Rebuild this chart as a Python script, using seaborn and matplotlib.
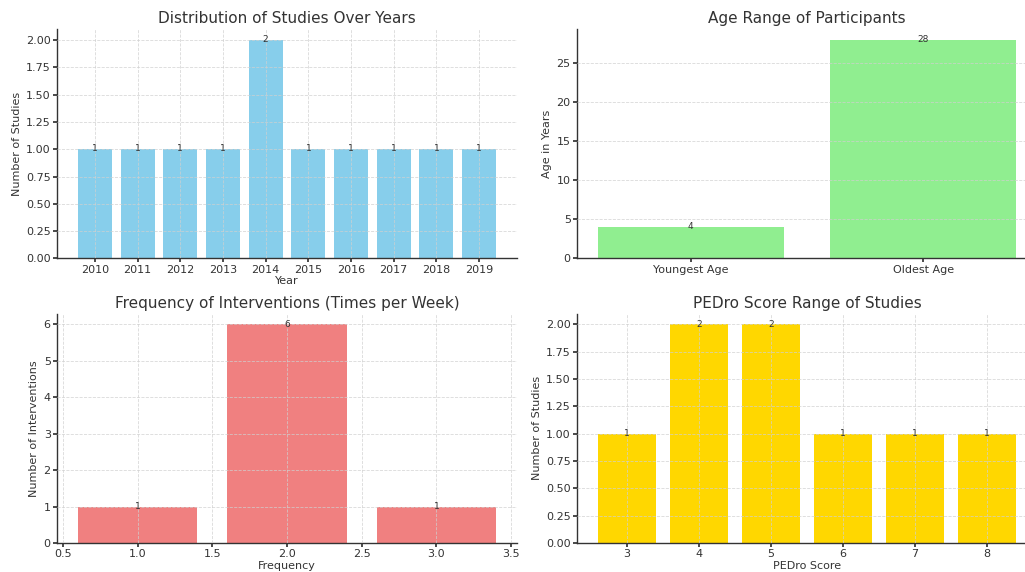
import matplotlib
matplotlib.use("Agg")
import matplotlib.pyplot as plt
import seaborn as sns
import pandas as pd

# data
years = [2010, 2011, 2012, 2013, 2014, 2015, 2016, 2017, 2018, 2019]
studies_per_year = [1, 1, 1, 1, 2, 1, 1, 1, 1, 1]

age_labels = ["Youngest Age", "Oldest Age"]
age_values = [4, 28]

freq_values = [1.0, 2.0, 3.0]
freq_counts = [1, 6, 1]

pedro_scores = [3, 4, 5, 6, 7, 8]
pedro_counts = [1, 2, 2, 1, 1, 1]

sns.set_theme(style="whitegrid", rc={
    "grid.linestyle": "--",
    "grid.color": "#d0d0d0",
    "grid.linewidth": 0.6,
    "axes.edgecolor": "#333333",
    "axes.linewidth": 1.0,
    "axes.axisbelow": False,
    "text.color": "#333333",
    "axes.labelcolor": "#333333",
    "xtick.color": "#333333",
    "ytick.color": "#333333",
    "xtick.bottom": True,
    "ytick.left": True,
    "xtick.major.size": 3,
    "ytick.major.size": 3,
})
plt.rcParams["font.family"] = ["DejaVu Sans"]

TITLE = 11
LABEL = 8
TICK = 8
ANNOT = 6.5


def finish(ax, title, xlabel, ylabel):
    ax.set_title(title, fontsize=TITLE, pad=4)
    ax.set_xlabel(xlabel, fontsize=LABEL, labelpad=1)
    ax.set_ylabel(ylabel, fontsize=LABEL, labelpad=3)
    ax.tick_params(labelsize=TICK, pad=1.5)
    for c in ax.containers:
        ax.bar_label(c, fontsize=ANNOT, color="#333333", padding=-3)
    sns.despine(ax=ax)
    for g in ax.get_xgridlines() + ax.get_ygridlines():
        g.set_alpha(0.8)


fig, axes = plt.subplots(2, 2, figsize=(10.25, 5.72), dpi=100)
fig.subplots_adjust(left=0.0556, right=1.0117, top=0.9493, bottom=0.0507,
                    wspace=0.1304, hspace=0.2397)

# years
ax = axes[0, 0]
df_years = pd.DataFrame({"Year": years, "Studies": studies_per_year})
sns.barplot(data=df_years, x="Year", y="Studies", color="skyblue",
            saturation=1, native_scale=True, linewidth=0, ax=ax)
ax.margins(x=0.05)
ax.set_xticks(years, labels=[str(y) for y in years])
finish(ax, "Distribution of Studies Over Years", "Year", "Number of Studies")

# age range
ax = axes[0, 1]
df_age = pd.DataFrame({"Group": age_labels, "Age": age_values})
sns.barplot(data=df_age, x="Group", y="Age", color="lightgreen",
            saturation=1, linewidth=0, ax=ax)
ax.set_xlim(-0.49, 1.49)
ax.set_ylim(0, 29.4)
finish(ax, "Age Range of Participants", "", "Age in Years")

# frequency
ax = axes[1, 0]
df_freq = pd.DataFrame({"Frequency": freq_values, "Count": freq_counts})
sns.barplot(data=df_freq, x="Frequency", y="Count", color="lightcoral",
            saturation=1, native_scale=True, linewidth=0, ax=ax)
ax.margins(x=0.05)
ax.set_xticks([0.5, 1.0, 1.5, 2.0, 2.5, 3.0, 3.5])
finish(ax, "Frequency of Interventions (Times per Week)", "Frequency",
       "Number of Interventions")

# PEDro
ax = axes[1, 1]
df_pedro = pd.DataFrame({"Score": pedro_scores, "Count": pedro_counts})
sns.barplot(data=df_pedro, x="Score", y="Count", color="gold",
            saturation=1, native_scale=True, linewidth=0, ax=ax)
ax.margins(x=0.05)
ax.set_xticks(pedro_scores, labels=[str(s) for s in pedro_scores])
finish(ax, "PEDro Score Range of Studies", "PEDro Score", "Number of Studies")

fig.savefig("out.png", dpi=100)
